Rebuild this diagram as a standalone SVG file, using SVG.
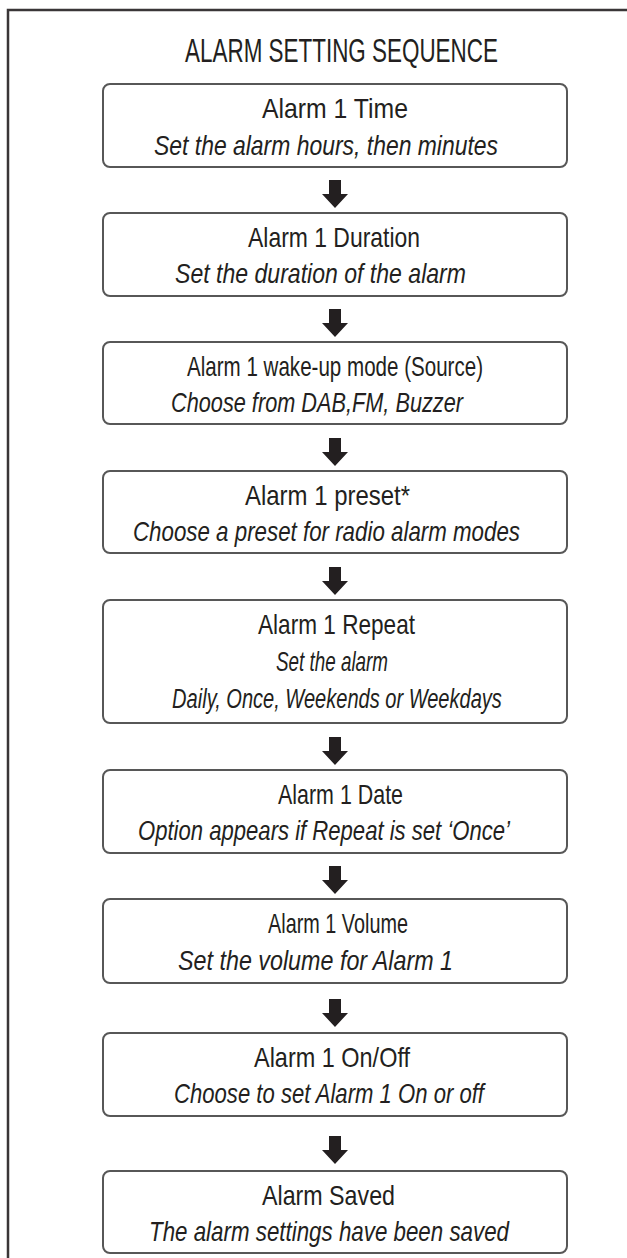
<svg xmlns="http://www.w3.org/2000/svg" width="627" height="1258" viewBox="0 0 627 1258">
<style>
.frame{fill:none;stroke:#3a3637;stroke-width:2.5}
.box{fill:#fff;stroke:#575757;stroke-width:2}
text{text-anchor:middle;font-family:"Liberation Sans Narrow","Liberation Sans",Arial,sans-serif;fill:#231f20}
.t{font-size:28px}
.s{font-size:28px;font-style:italic}
.title{font-size:33px}
.arr{fill:#231f20}
</style>
<defs>
<path id="arrow" d="M-6,0 H6 V14 H13 L0,28 L-13,14 H-6 Z"/>
</defs>
<rect width="627" height="1258" fill="#fff"/>
<path class="frame" d="M8,1258 V10 H627"/>
<text class="title" transform="translate(341.5,62) scale(0.7,1)" x="0" y="0" textLength="447" lengthAdjust="spacingAndGlyphs">ALARM SETTING SEQUENCE</text>

<g id="connectors" class="arr">
<use href="#arrow" x="335" y="180"/>
<use href="#arrow" x="335" y="309"/>
<use href="#arrow" x="335" y="438"/>
<use href="#arrow" x="335" y="567"/>
<use href="#arrow" x="335" y="737"/>
<use href="#arrow" x="335" y="866"/>
<use href="#arrow" x="335" y="999"/>
<use href="#arrow" x="335" y="1136"/>
</g>

<g id="n1">
<rect class="box" x="103" y="84" width="464" height="83" rx="7"/>
<text class="t" x="335" y="118" textLength="146" lengthAdjust="spacingAndGlyphs">Alarm  1 Time</text>
<text class="s" x="326" y="155" textLength="344" lengthAdjust="spacingAndGlyphs">Set the alarm hours, then minutes</text>
</g>
<g id="n2">
<rect class="box" x="103" y="213" width="464" height="83" rx="7"/>
<text class="t" x="334" y="247" textLength="172" lengthAdjust="spacingAndGlyphs">Alarm 1 Duration</text>
<text class="s" x="320.5" y="283" textLength="291" lengthAdjust="spacingAndGlyphs">Set the duration of the alarm</text>
</g>
<g id="n3">
<rect class="box" x="103" y="342" width="464" height="82" rx="7"/>
<text class="t" x="335" y="376" textLength="296" lengthAdjust="spacingAndGlyphs">Alarm 1 wake-up mode (Source)</text>
<text class="s" x="317" y="412" textLength="292" lengthAdjust="spacingAndGlyphs">Choose from DAB,FM, Buzzer</text>
</g>
<g id="n4">
<rect class="box" x="103" y="471" width="464" height="82" rx="7"/>
<text class="t" x="327.5" y="505" textLength="165" lengthAdjust="spacingAndGlyphs">Alarm 1 preset*</text>
<text class="s" x="326.5" y="541" textLength="387" lengthAdjust="spacingAndGlyphs">Choose a preset for radio alarm modes</text>
</g>
<g id="n5">
<rect class="box" x="103" y="600" width="464" height="123" rx="7"/>
<text class="t" x="336.5" y="634" textLength="157" lengthAdjust="spacingAndGlyphs">Alarm 1 Repeat</text>
<text class="s" x="332" y="671" textLength="112" lengthAdjust="spacingAndGlyphs">Set the alarm</text>
<text class="s" transform="translate(337,708) scale(0.72,1)" x="0" y="0" textLength="458" lengthAdjust="spacingAndGlyphs">Daily, Once, Weekends or Weekdays</text>
</g>
<g id="n6">
<rect class="box" x="103" y="770" width="464" height="83" rx="7"/>
<text class="t" x="340.5" y="804" textLength="125" lengthAdjust="spacingAndGlyphs">Alarm 1 Date</text>
<text class="s" x="324" y="840" textLength="372" lengthAdjust="spacingAndGlyphs">Option appears if Repeat is set ‘Once’</text>
</g>
<g id="n7">
<rect class="box" x="103" y="899" width="464" height="84" rx="7"/>
<text class="t" x="338" y="933" textLength="140" lengthAdjust="spacingAndGlyphs">Alarm 1 Volume</text>
<text class="s" x="315.5" y="970" textLength="275" lengthAdjust="spacingAndGlyphs">Set the volume for Alarm 1</text>
</g>
<g id="n8">
<rect class="box" x="103" y="1033" width="464" height="83" rx="7"/>
<text class="t" x="332" y="1067" textLength="156" lengthAdjust="spacingAndGlyphs">Alarm 1 On/Off</text>
<text class="s" x="329" y="1103" textLength="310" lengthAdjust="spacingAndGlyphs">Choose to set Alarm 1 On or off</text>
</g>
<g id="n9">
<rect class="box" x="103" y="1171" width="464" height="82" rx="7"/>
<text class="t" x="328.5" y="1205" textLength="133" lengthAdjust="spacingAndGlyphs">Alarm Saved</text>
<text class="s" x="329" y="1241" textLength="360" lengthAdjust="spacingAndGlyphs">The alarm settings have been saved</text>
</g>
</svg>
